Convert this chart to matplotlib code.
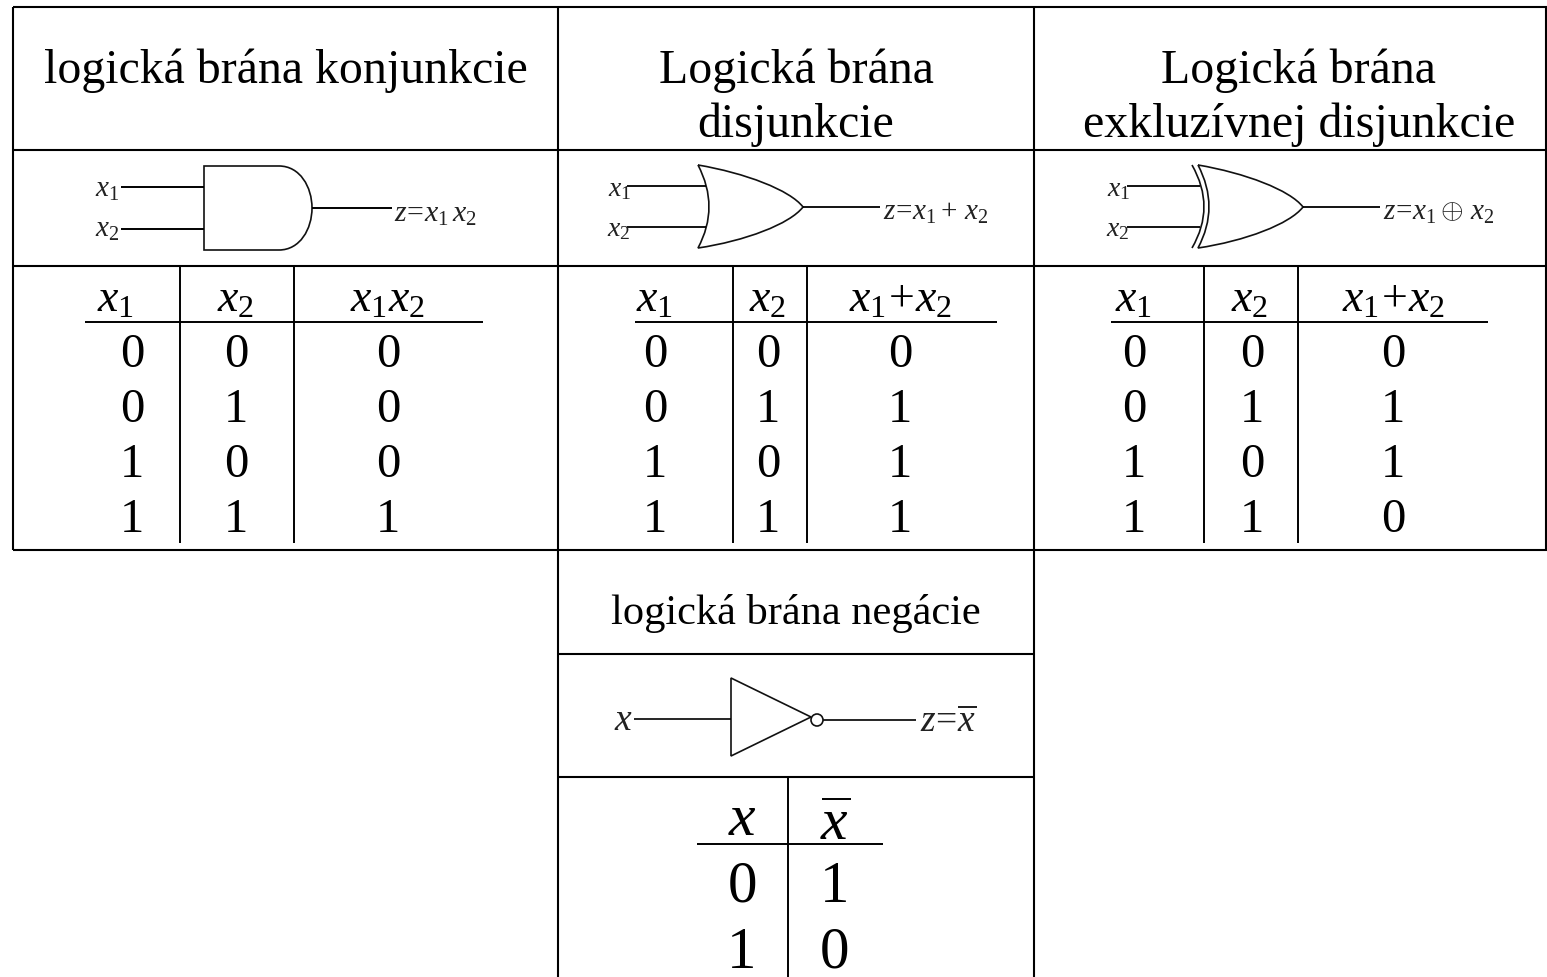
"""Logic gate reference table, drawn in pixel coordinates."""
import matplotlib
matplotlib.use("Agg")
import matplotlib.pyplot as plt
from matplotlib.patches import PathPatch, Circle, Polygon
from matplotlib.path import Path

plt.rcParams["font.family"] = ["Liberation Serif", "DejaVu Serif"]
plt.rcParams["mathtext.fontset"] = "custom"
plt.rcParams["mathtext.rm"] = "Liberation Serif"
plt.rcParams["mathtext.it"] = "Liberation Serif:italic"
plt.rcParams["mathtext.bf"] = "Liberation Serif:bold"

and_col1 = ["0", "0", "1", "1"]
and_col2 = ["0", "1", "0", "1"]
and_out = ["0", "0", "0", "1"]
or_out = ["0", "1", "1", "1"]
xor_out = ["0", "1", "1", "0"]
not_in = ["0", "1"]
not_out = ["1", "0"]
row_y = [367, 422, 477, 532]
not_row_y = [902, 968]
GREY = "#222222"

fig = plt.figure(figsize=(15.47, 9.77), dpi=100)
ax = fig.add_axes([0, 0, 1, 1])
ax.set_xlim(0, 1547); ax.set_ylim(977, 0); ax.axis("off")

def line(x0, y0, x1, y1, lw=1.5):
    ax.plot([x0, x1], [y0, y1], color="black", lw=lw, solid_capstyle="butt")

def text(x, y, s, fs, color="black", ha="center"):
    ax.text(x, y, s, ha=ha, va="baseline", fontsize=fs, color=color)

def curve(verts, codes, lw=1.2):
    ax.add_patch(PathPatch(Path(verts, codes), fc="none", ec="#111111", lw=lw))

# grid
line(13, 7, 1547, 7); line(13, 150, 1547, 150); line(13, 266, 1547, 266); line(13, 550, 1547, 550)
line(13, 7, 13, 550); line(558, 7, 558, 977); line(1034, 7, 1034, 977); line(1546, 7, 1546, 550)
line(558, 654, 1034, 654); line(558, 777, 1034, 777)

# titles
text(286, 83, "logická brána konjunkcie", 34.5)
text(796, 83, "Logická brána", 34.5); text(796, 137, "disjunkcie", 34.5)
text(1298, 83, "Logická brána", 34.5); text(1299, 137, "exkluzívnej disjunkcie", 34.5)
text(796, 624, "logická brána negácie", 30.5)

# and gate
curve([(204, 166), (279, 166), (300, 166), (312, 187), (312, 208), (312, 229), (300, 250), (279, 250), (204, 250), (204, 166)],
      [Path.MOVETO, Path.LINETO, Path.CURVE4, Path.CURVE4, Path.CURVE4, Path.CURVE4, Path.CURVE4, Path.CURVE4, Path.LINETO, Path.CLOSEPOLY])
line(121, 187, 204, 187, lw=1.4); line(121, 229, 204, 229, lw=1.4); line(312, 208, 392, 208, lw=1.4)
text(95, 197, "$x_1$", 21, GREY, "left"); text(95, 237, "$x_2$", 21, GREY, "left")
text(394, 222, "$z\\!=\\!x_1\\,x_2$", 21.5, GREY, "left")

def or_shape(dx, wire_end):
    tip_top, tip_bot, mid = (698 + dx, 165), (698 + dx, 248), 207
    apex = (803 + dx, mid)
    codes = [Path.MOVETO, Path.CURVE3, Path.CURVE3, Path.CURVE4, Path.CURVE4, Path.CURVE4, Path.CURVE4, Path.CURVE4, Path.CURVE4]
    curve([tip_top, (720 + dx, mid), tip_bot, (745 + dx, 241), (790 + dx, 224), apex, (790 + dx, 190), (745 + dx, 173), tip_top], codes)
    line(627 + dx, 186, wire_end, 186, lw=1.3); line(627 + dx, 227, wire_end, 227, lw=1.3)
    line(803 + dx, mid, 880 + dx, mid, lw=1.3)

or_shape(0, 706)
text(608, 196, "$x_1$", 20, GREY, "left"); text(607, 236, "$x_2$", 20, GREY, "left")
text(883, 220, "$z\\!=\\!x_1+\\,x_2$", 21, GREY, "left")

or_shape(500, 1200)
curve([(1192, 165), (1216, 207), (1192, 248)], [Path.MOVETO, Path.CURVE3, Path.CURVE3])
text(1107, 196, "$x_1$", 20, GREY, "left"); text(1106, 236, "$x_2$", 20, GREY, "left")
text(1383, 220, "$z\\!=\\!x_1\\oplus\\,x_2$", 21, GREY, "left")

# not gate
ax.add_patch(Polygon([(731, 678), (731, 756), (811, 717)], closed=True, fc="none", ec="#111111", lw=1.2))
ax.add_patch(Circle((817, 720), 6, fc="white", ec="#111111", lw=1.2, zorder=3))
line(634, 719, 731, 719, lw=1.2); line(823, 720, 916, 720, lw=1.2)
text(623, 730, "$x$", 27, GREY)
text(920, 732, "$z\\!=\\!\\overline{x}$", 27, GREY, "left")

def table(xs, vs, rule, head, col1, col2, col3):
    line(vs[0], 266, vs[0], 543, lw=1.4); line(vs[1], 266, vs[1], 543, lw=1.4)
    line(rule[0], 322, rule[1], 322, lw=1.4)
    for x, s in zip(xs[3:], head):
        text(x, 312, s, 33)
    for x, col in zip(xs[:3], (col1, col2, col3)):
        for y, v in zip(row_y, col):
            text(x, y, v, 35)

table((132, 236, 388, 116, 236, 387), (180, 294), (85, 483),
      ("$x_1$", "$x_2$", "$x_1x_2$"), and_col1, and_col2, and_out)
table((655, 768, 900, 655, 768, 900), (733, 807), (635, 997),
      ("$x_1$", "$x_2$", "$x_1\\!+\\!x_2$"), and_col1, and_col2, or_out)
table((1134, 1252, 1393, 1134, 1250, 1393), (1204, 1298), (1111, 1488),
      ("$x_1$", "$x_2$", "$x_1\\!+\\!x_2$"), and_col1, and_col2, xor_out)

# negation table
line(788, 777, 788, 977, lw=1.4); line(697, 844, 883, 844, lw=1.4)
text(742, 835, "$x$", 43); text(834, 839, "$x$", 43)
line(822, 799, 851, 799, lw=1.4)
for y, a, b in zip(not_row_y, not_in, not_out):
    text(742, y, a, 42.5); text(835, y, b, 42.5)

fig.savefig("out.png", dpi=100)
